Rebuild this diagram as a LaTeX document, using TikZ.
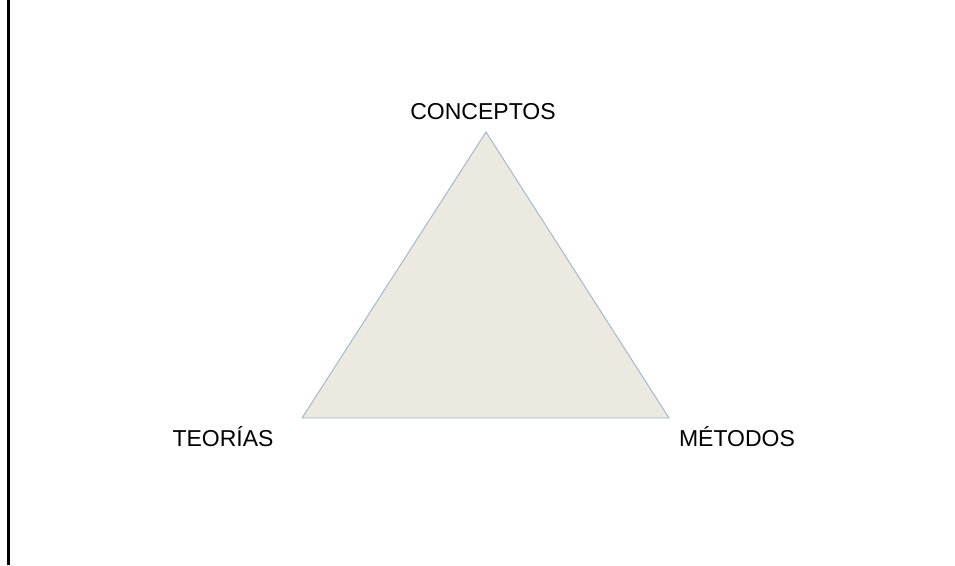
\documentclass[tikz,border=0pt]{standalone}
\usepackage{fontspec}
\setmainfont{Liberation Sans}
\definecolor{trifill}{HTML}{ECE9E0}
\definecolor{triedge}{HTML}{9EB4CC}
\begin{document}
\begin{tikzpicture}[x=1pt,y=1pt,
  lbl/.style={anchor=base,inner sep=0pt,font=\fontsize{23}{27}\selectfont}]
\useasboundingbox (0,0) rectangle (955,565);
\fill[white] (0,0) rectangle (955,565);
\draw[black,line width=2.5pt] (8.7,0) -- (8.7,565);
\coordinate (top) at (486,433);
\coordinate (bl) at (302,147);
\coordinate (br) at (669,147);
\filldraw[fill=trifill,draw=triedge,line width=0.9pt,line join=miter] (top) -- (br) -- (bl) -- cycle;
\node[lbl] (conceptos) at (483,445) {CONCEPTOS};
\node[lbl] (teorias) at (223,118) {TEORÍAS};
\node[lbl] (metodos) at (737,118) {MÉTODOS};
\end{tikzpicture}
\end{document}
